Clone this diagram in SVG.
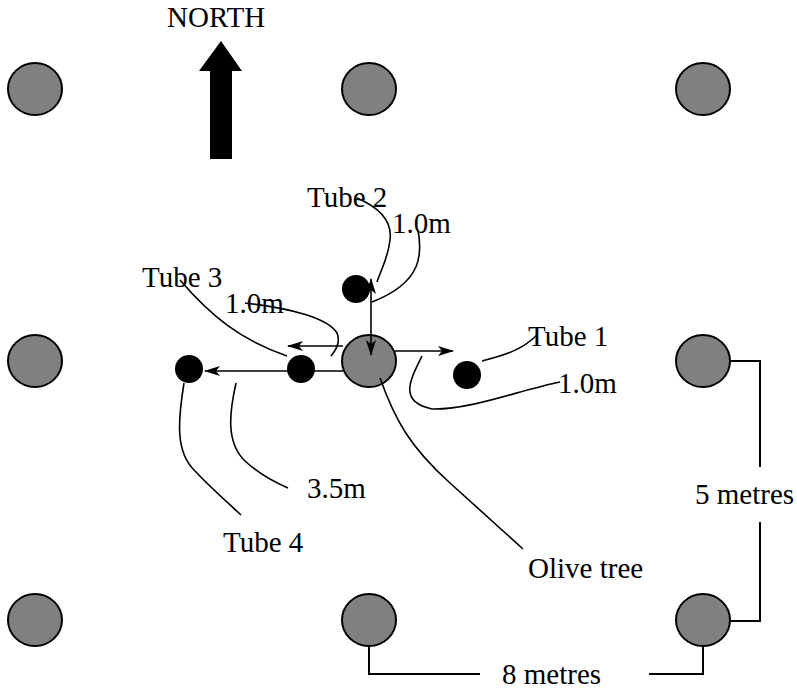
<svg xmlns="http://www.w3.org/2000/svg" width="797" height="694" viewBox="0 0 797 694">
  <style>
    .tree { fill: #808080; stroke: #000; stroke-width: 2; }
    .tube { fill: #000; }
    .lead { fill: none; stroke: #000; stroke-width: 1.6; }
    .arr { fill: none; stroke: #000; stroke-width: 1.6; }
    .dim { fill: none; stroke: #000; stroke-width: 2; }
    text { font-family: "Liberation Serif", "Times New Roman", serif; font-size: 29px; fill: #000; }
  </style>
  <defs>
    <marker id="head" viewBox="0 0 16 10" refX="15" refY="5" markerWidth="16" markerHeight="10" markerUnits="userSpaceOnUse" orient="auto-start-reverse">
      <path d="M0,0 L16,5 L0,10 L4,5 z" fill="#000"/>
    </marker>
  </defs>

  <!-- north arrow -->
  <g id="north">
    <polygon points="221,41 242,71 232,71 232,159 210,159 210,71 199,71" fill="#000"/>
    <text x="167" y="27">NORTH</text>
  </g>

  <!-- surrounding olive trees on the 8 m x 5 m grid -->
  <g id="tree-nw"><ellipse class="tree" cx="35" cy="89" rx="27" ry="26"/></g>
  <g id="tree-n"><ellipse class="tree" cx="369" cy="89" rx="27" ry="26"/></g>
  <g id="tree-ne"><ellipse class="tree" cx="703" cy="89" rx="27" ry="26"/></g>
  <g id="tree-w"><ellipse class="tree" cx="35" cy="361" rx="27" ry="26"/></g>
  <g id="tree-e"><ellipse class="tree" cx="703" cy="361" rx="27" ry="26"/></g>
  <g id="tree-sw"><ellipse class="tree" cx="35" cy="620" rx="27" ry="26"/></g>
  <g id="tree-s"><ellipse class="tree" cx="369" cy="620" rx="27" ry="26"/></g>
  <g id="tree-se"><ellipse class="tree" cx="703" cy="620" rx="27" ry="26"/></g>

  <!-- central olive tree (drawn beneath the distance arrows) -->
  <g id="olive-tree"><ellipse class="tree" cx="369" cy="361" rx="27" ry="26"/></g>

  <!-- connectors: distance arrows, leaders and spacing brackets -->
  <g id="connectors">
    <line class="arr" x1="371" y1="279" x2="371" y2="355" marker-start="url(#head)" marker-end="url(#head)"/>
    <line class="arr" x1="343" y1="346" x2="288" y2="346" marker-end="url(#head)"/>
    <line class="arr" x1="395" y1="351" x2="453" y2="351" marker-end="url(#head)"/>
    <line class="arr" x1="343" y1="371" x2="205" y2="371" marker-end="url(#head)"/>

    <path class="lead" d="M357,198 C385,210 392,225 390,240 C388,258 381,270 377,282"/>
    <path class="lead" d="M418,230 C422,252 424,282 372,302"/>
    <path class="lead" d="M180,280 C210,315 240,340 287,356"/>
    <path class="lead" d="M245,303 C290,308 328,318 337,333 C341,342 336,350 331,356"/>
    <path class="lead" d="M482,361 C505,355 522,350 537,335"/>
    <path class="lead" d="M422,356 C410,380 398,402 432,409 C470,410 520,390 560,382"/>
    <path class="lead" d="M380,378 C395,420 410,447 450,483 L523,549"/>
    <path class="lead" d="M236,383 C230,410 225,442 245,461 C260,475 274,482 288,488"/>
    <path class="lead" d="M184,383 C178,420 175,452 195,471 C210,487 226,501 241,515"/>

    <polyline class="dim" points="730,361 760,361 760,467"/>
    <polyline class="dim" points="760,522 760,621 730,621"/>
    <polyline class="dim" points="369,646 369,674 480,674"/>
    <polyline class="dim" points="649,674 703,674 703,646"/>
  </g>

  <!-- access tubes -->
  <g id="tube-1"><circle class="tube" cx="467" cy="375" r="14"/></g>
  <g id="tube-2"><circle class="tube" cx="356" cy="289" r="14"/></g>
  <g id="tube-3"><circle class="tube" cx="301" cy="369" r="14"/></g>
  <g id="tube-4"><circle class="tube" cx="189" cy="369" r="14"/></g>

  <!-- labels -->
  <g id="labels">
    <text x="307" y="207">Tube 2</text>
    <text x="392" y="233">1.0m</text>
    <text x="142" y="287">Tube 3</text>
    <text x="225" y="313">1.0m</text>
    <text x="528" y="346">Tube 1</text>
    <text x="558" y="393">1.0m</text>
    <text x="307" y="498">3.5m</text>
    <text x="223" y="552">Tube 4</text>
    <text x="528" y="578">Olive tree</text>
    <text x="695" y="504">5 metres</text>
    <text x="502" y="684">8 metres</text>
  </g>
</svg>
